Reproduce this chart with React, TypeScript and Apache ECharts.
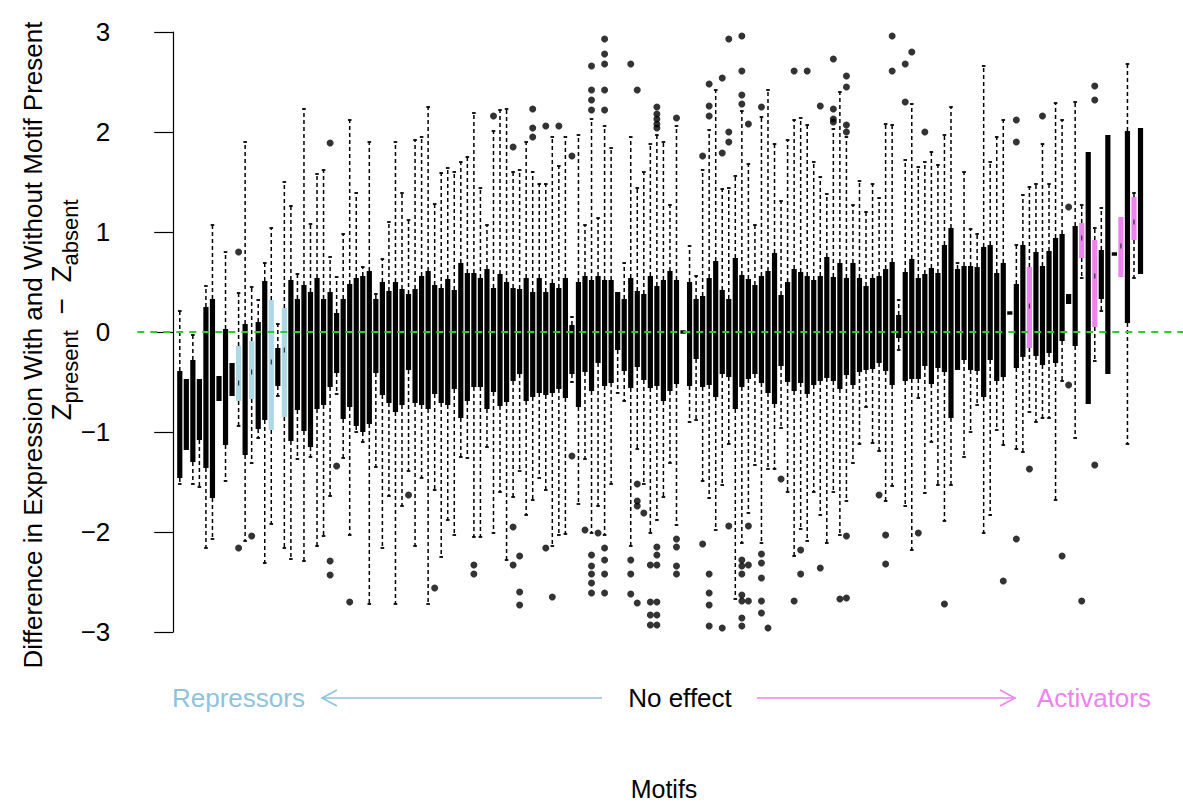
import React, { useEffect, useRef } from "react";
import * as echarts from "echarts";

// ---- data (motif index = position + 1) ----
const lowerWhisker = [
  -1.52, -1.18, -1.52, -1.55, -2.16, -2.07, -0.69, -1.49, -0.64, -0.94,
  -2.09, -1.31, -1.06, -2.31, -1.92, -0.64, -2.16, -2.27, -1.27, -2.29,
  -1.25, -2.14, -2.04, -1.64, -0.62, -1.26, -2.03, -1.0, -1.1, -2.72,
  -1.35, -2.16, -1.64, -2.72, -1.74, -1.39, -2.14, -1.46, -2.72, -1.58,
  -2.25, -1.88, -2.03, -1.25, -1.26, -2.05, -2.05, -1.15, -2.01, -1.6,
  -2.28, -1.65, -1.39, -1.83, -1.68, -1.46, -1.58, -2.14, -2.03, -2.02,
  -0.5, -1.72, -1.27, -2.01, -1.74, -2.03, -1.52, -0.61, -0.69, -2.14,
  -1.17, -1.52, -2.01, -1.88, -1.65, -1.31, -1.93, 0.0, -0.9, -0.88,
  -1.49, -1.66, -1.98, -1.53, -1.12, -2.67, -2.11, -1.81, -1.33, -2.11,
  -1.37, -1.37, -0.96, -1.6, -2.24, -1.97, -2.09, -1.6, -1.83, -2.11,
  -1.6, -2.03, -1.69, -1.31, -1.12, -0.75, -1.11, -1.19, -1.69, -1.54,
  -0.18, -1.74, -2.18, -0.66, -1.61, -1.1, -1.53, -1.89, -1.53, -0.38,
  -1.25, -1.0, -0.73, -2.01, -1.83, -0.98, -1.13, 0.19, -1.17, -1.2,
  -0.8, -0.9, -0.86, -0.86, -1.68, -0.49, 0.28, -1.06, 0.54, -0.72,
  -0.29, 0.21, -0.42, 0.78, 0.55, -1.12, 0.54, 0.58,
];
const lowerQuartile = [
  -1.46, -1.18, -1.3, -1.08, -1.36, -1.66, -0.69, -1.13, -0.64, -0.69,
  -1.23, -0.67, -0.97, -0.88, -0.98, -0.54, -0.85, -1.09, -0.78, -0.99,
  -1.15, -0.77, -0.73, -0.55, -0.41, -0.87, -0.75, -0.94, -1.0, -0.92,
  -0.41, -0.63, -0.71, -0.8, -0.73, -0.38, -0.71, -0.73, -0.77, -0.62,
  -0.71, -0.73, -0.57, -0.86, -0.69, -0.55, -0.55, -0.77, -0.6, -0.74,
  -0.7, -0.49, -0.42, -0.69, -0.65, -0.61, -0.63, -0.61, -0.57, -0.66,
  -0.42, -0.75, -0.4, -0.59, -0.31, -0.54, -0.51, -0.18, -0.39, -0.56,
  -0.35, -0.48, -0.56, -0.54, -0.69, -0.59, -0.52, 0.0, -0.54, -0.27,
  -0.55, -0.53, -0.65, -0.42, -0.45, -0.77, -0.55, -0.47, -0.42, -0.51,
  -0.61, -0.72, -0.34, -0.5, -0.59, -0.51, -0.62, -0.53, -0.49, -0.46,
  -0.49, -0.57, -0.43, -0.53, -0.4, -0.38, -0.37, -0.31, -0.39, -0.53,
  -0.06, -0.49, -0.47, -0.47, -0.34, -0.52, -0.36, -0.4, -0.86, -0.38,
  -0.28, -0.38, -0.39, -0.65, -0.28, -0.49, -0.45, 0.19, -0.36, -0.25,
  -0.16, -0.24, -0.33, -0.21, -0.31, -0.09, 0.28, -0.14, 0.74, -0.72,
  0.05, 0.33, -0.42, 0.78, 0.55, 0.09, 0.92, 0.58,
];
const medians = [
  -0.92, -0.82, -0.79, -0.77, -0.55, -0.66, -0.56, -0.55, -0.47, -0.51,
  -0.57, -0.4, -0.43, -0.18, -0.3, -0.35, -0.18, -0.28, -0.22, -0.26,
  -0.37, -0.11, -0.2, -0.07, -0.11, -0.27, -0.13, -0.2, -0.22, -0.15,
  -0.04, -0.06, -0.15, -0.15, -0.15, 0.0, -0.14, -0.08, -0.08, -0.07,
  -0.13, -0.1, -0.07, -0.08, -0.05, 0.02, 0.0, -0.07, -0.08, -0.08,
  -0.1, -0.02, 0.0, -0.07, -0.12, -0.03, -0.11, -0.06, -0.06, -0.06,
  -0.17, -0.12, 0.08, -0.03, 0.12, -0.01, 0.0, 0.11, -0.03, -0.01,
  0.03, -0.05, 0.0, -0.04, -0.08, 0.01, 0.0, 0.0, -0.02, 0.03,
  -0.09, 0.0, 0.03, 0.0, -0.06, -0.01, 0.01, 0.03, 0.02, 0.02,
  0.0, 0.03, 0.01, 0.0, 0.02, 0.04, -0.03, -0.01, 0.03, 0.14,
  0.03, 0.06, 0.05, 0.08, 0.07, 0.04, 0.08, 0.12, 0.12, 0.08,
  0.05, 0.05, 0.13, 0.03, 0.12, 0.06, 0.11, 0.23, 0.09, 0.12,
  0.19, 0.14, 0.13, 0.1, 0.29, 0.05, 0.12, 0.19, 0.06, 0.31,
  0.26, 0.28, 0.16, 0.3, 0.31, 0.44, 0.33, 0.46, 0.94, 0.54,
  0.56, 0.57, 0.77, 0.78, 0.86, 1.05, 1.1, 1.31,
];
const upperQuartile = [
  -0.39, -0.47, -0.28, -0.47, 0.25, 0.33, -0.44, 0.03, -0.31, -0.14,
  0.08, -0.09, 0.1, 0.51, 0.32, -0.16, 0.24, 0.52, 0.33, 0.47,
  0.4, 0.54, 0.33, 0.4, 0.19, 0.33, 0.48, 0.54, 0.56, 0.61,
  0.33, 0.5, 0.41, 0.5, 0.43, 0.38, 0.43, 0.56, 0.61, 0.47,
  0.44, 0.53, 0.42, 0.69, 0.59, 0.59, 0.54, 0.63, 0.44, 0.58,
  0.5, 0.44, 0.43, 0.54, 0.4, 0.54, 0.4, 0.49, 0.44, 0.54,
  0.07, 0.5, 0.56, 0.52, 0.56, 0.52, 0.52, 0.4, 0.33, 0.54,
  0.41, 0.38, 0.56, 0.46, 0.52, 0.61, 0.52, 0.0, 0.5, 0.33,
  0.36, 0.54, 0.71, 0.42, 0.33, 0.74, 0.57, 0.53, 0.47, 0.56,
  0.61, 0.79, 0.37, 0.5, 0.63, 0.6, 0.56, 0.52, 0.56, 0.75,
  0.55, 0.69, 0.54, 0.69, 0.54, 0.46, 0.54, 0.56, 0.63, 0.7,
  0.17, 0.6, 0.73, 0.54, 0.58, 0.64, 0.59, 0.87, 1.04, 0.63,
  0.66, 0.66, 0.65, 0.85, 0.87, 0.59, 0.69, 0.19, 0.48, 0.87,
  0.65, 0.8, 0.66, 0.81, 0.94, 0.98, 0.38, 1.06, 1.09, 1.8,
  0.92, 0.82, 1.97, 0.78, 1.15, 2.01, 1.35, 2.04,
];
const upperWhisker = [
  0.21, -0.47, -0.03, -0.47, 0.46, 1.07, -0.44, 0.8, -0.31, 0.39,
  1.9, 0.45, 0.32, 0.69, 1.04, 0.08, 1.5, 1.26, 0.58, 2.23,
  1.08, 1.58, 1.62, 0.75, 0.55, 0.98, 2.12, 1.39, 0.65, 1.9,
  0.38, 0.73, 1.1, 1.9, 1.39, 1.12, 1.92, 1.95, 2.25, 1.28,
  1.59, 1.64, 1.6, 1.7, 1.75, 2.19, 1.44, 1.07, 2.01, 2.22,
  2.23, 1.6, 1.62, 1.9, 1.6, 1.48, 1.48, 1.95, 1.66, 1.95,
  0.15, 1.97, 1.07, 2.13, 1.14, 2.06, 1.84, 0.4, 0.69, 1.95,
  1.44, 1.6, 1.88, 1.97, 1.9, 1.27, 2.06, 0.0, 0.86, 0.56,
  1.62, 2.02, 2.42, 1.43, 1.44, 1.56, 2.21, 1.68, 1.07, 2.15,
  2.42, 1.88, 1.31, 1.92, 2.12, 2.14, 2.07, 1.7, 1.55, 1.38,
  2.03, 2.4, 1.95, 1.27, 1.51, 1.2, 1.48, 1.34, 2.08, 2.07,
  0.32, 1.72, 2.28, 1.65, 1.7, 1.8, 1.67, 1.97, 2.25, 0.69,
  1.6, 1.03, 0.98, 2.66, 1.7, 1.95, 2.12, 0.19, 0.87, 1.37,
  1.45, 1.48, 1.88, 1.48, 2.29, 2.12, 0.38, 2.3, 1.27, 1.8,
  1.04, 1.24, 1.97, 0.78, 1.15, 2.68, 1.39, 2.04,
];

const repressorMotifs = [10, 12, 15, 17];
const activatorMotifs = [131, 139, 141, 145, 147];

// [motif, outlying values]
const outliers: [number, number[]][] = [
  [10, [0.8, -2.16]],
  [12, [-2.04]],
  [24, [1.89, -2.29, -2.43]],
  [25, [-1.34]],
  [27, [-2.7]],
  [36, [-1.63]],
  [40, [-2.56]],
  [41, [-3.23]],
  [46, [-2.33, -2.42]],
  [49, [2.16, -3.02]],
  [52, [1.85, -1.95, -2.33]],
  [53, [-2.24, -2.6, -2.73]],
  [55, [2.23, 2.04, 1.95]],
  [57, [2.06, -2.16]],
  [58, [-2.65]],
  [59, [2.06]],
  [61, [1.76, -1.24]],
  [63, [-1.98]],
  [64, [2.22, 2.32, 2.42, 2.66, -2.23, -2.34, -2.42, -2.51, -2.61]],
  [65, [-2.01]],
  [66, [2.22, 2.42, 2.68, 2.78, 2.93, -2.16, -2.28, -2.42, -2.61]],
  [70, [2.68, -2.28, -2.42, -2.62]],
  [71, [2.42, -1.52, -1.69, -1.74, -2.71]],
  [72, [-1.81]],
  [73, [-2.33, -2.7, -2.83, -2.93]],
  [74, [2.04, 2.08, 2.13, 2.18, 2.25, -2.15, -2.23, -2.33, -2.7, -2.83, -2.93]],
  [77, [2.14, -2.07, -2.15, -2.34, -2.42]],
  [81, [1.76, -2.12]],
  [82, [2.16, 2.26, 2.48, -2.42, -2.61, -2.73, -2.94]],
  [84, [1.79, 2.54, -2.96]],
  [85, [1.9, 2.0, 2.93, -1.94]],
  [87, [2.28, 2.37, 2.61, 2.96, -2.28, -2.34, -2.42, -2.63, -2.69, -2.86, -2.94]],
  [88, [2.08, -1.94, -2.33, -2.69]],
  [90, [2.25, -2.22, -2.31, -2.46, -2.69, -2.81]],
  [91, [-2.96]],
  [93, [-1.47]],
  [95, [2.61, -2.69]],
  [96, [-2.18, -2.42]],
  [97, [2.61]],
  [99, [2.26, -2.36]],
  [101, [2.1, 2.13, 2.23, 2.73]],
  [102, [-2.67]],
  [103, [2.0, 2.07, 2.45, 2.56, -2.04, -2.66]],
  [108, [-1.63]],
  [109, [-2.03, -2.32]],
  [110, [2.61, 2.96]],
  [112, [2.3, 2.68]],
  [113, [2.8]],
  [114, [-2.01]],
  [115, [2.0]],
  [118, [-2.72]],
  [127, [-2.49]],
  [129, [1.9, 2.12, -2.07]],
  [131, [-1.37]],
  [133, [2.16]],
  [136, [-2.24]],
  [137, [1.25, -0.53]],
  [139, [-2.69]],
  [141, [2.32, 2.46, -1.33]],
];

const yTicks = [-3, -2, -1, 0, 1, 2, 3];

const yTitle = "Difference in Expression With and Without Motif Present";
const xTitle = "Motifs";
const leftLabel = "Repressors";
const midLabel = "No effect";
const rightLabel = "Activators";

// ---- styles ----
const FONT = "'Liberation Sans', Arial, Helvetica, sans-serif";
const REPRESSOR_FILL = "#add8e6";
const ACTIVATOR_FILL = "#ee82ee";
const REPRESSOR_TEXT = "#8fc2dc";
const ZERO_LINE = "#2ecc2e";

function measure(text: string, size: number): number {
  const ctx = document.createElement("canvas").getContext("2d");
  if (!ctx) return text.length * size * 0.5;
  ctx.font = `${size}px ${FONT}`;
  return ctx.measureText(text).width;
}

function txt(text: string, x: number, y: number, size: number, fill: string, align: string, extra: any = {}) {
  return {
    type: "text",
    x,
    y,
    ...extra,
    style: {
      text,
      font: `${size}px ${FONT}`,
      fill,
      textAlign: align,
      align,
      textVerticalAlign: "middle",
      verticalAlign: "middle",
    },
  };
}

export default function App() {
  const ref = useRef<HTMLDivElement>(null);

  useEffect(() => {
    document.body.style.margin = "0";
    const el = ref.current;
    if (!el) return;
    const chart = echarts.init(el, undefined, { renderer: "svg" });

    const boxData = lowerWhisker.map((lo, k) => {
      const motif = k + 1;
      const grp = repressorMotifs.includes(motif) ? 1 : activatorMotifs.includes(motif) ? 2 : 0;
      return [motif, lo, lowerQuartile[k], medians[k], upperQuartile[k], upperWhisker[k], grp];
    });
    const outlierData: number[][] = [];
    outliers.forEach(([m, vals]) => vals.forEach((v) => outlierData.push([m, v])));

    // subscripted y-axis second line
    const zParts = [
      { t: "Z", s: 28, dy: 0 },
      { t: "present", s: 22, dy: 9 },
      { t: "  \u2212  ", s: 28, dy: 0 },
      { t: "Z", s: 28, dy: 0 },
      { t: "absent", s: 22, dy: 9 },
    ];
    const widths = zParts.map((p) => measure(p.t, p.s));
    const total = widths.reduce((a, b) => a + b, 0);
    let cursor = -total / 2;
    const zChildren = zParts.map((p, i) => {
      const c = txt(p.t, cursor, p.dy, p.s, "#000", "left");
      cursor += widths[i];
      return c;
    });

    const arrowY = 698;
    const blueStroke = { stroke: REPRESSOR_TEXT, lineWidth: 1.6 };
    const pinkStroke = { stroke: ACTIVATOR_FILL, lineWidth: 1.6 };

    const option: any = {
      animation: false,
      backgroundColor: "#ffffff",
      grid: { left: 137.3, top: 32, width: 1051.4, height: 600, containLabel: false },
      xAxis: { type: "value", min: -5.5, max: 154.5, show: false },
      yAxis: {
        type: "value",
        min: yTicks[0],
        max: yTicks[yTicks.length - 1],
        interval: 1,
        axisLine: { show: true, lineStyle: { color: "#000", width: 1.2 } },
        axisTick: { show: true, length: 19, lineStyle: { color: "#000", width: 1.2 } },
        axisLabel: {
          margin: 27,
          fontSize: 26,
          fontFamily: FONT,
          color: "#000",
          formatter: (v: number) => String(v).replace("-", "\u2212"),
        },
        splitLine: { show: false },
      },
      series: [
        {
          type: "custom",
          z: 2,
          data: boxData,
          encode: { x: 0, y: [1, 2, 3, 4, 5] },
          renderItem: (params: any, api: any) => {
            const m = api.value(0);
            const pLo = api.coord([m, api.value(1)]);
            const pQ1 = api.coord([m, api.value(2)]);
            const pMed = api.coord([m, api.value(3)]);
            const pQ3 = api.coord([m, api.value(4)]);
            const pHi = api.coord([m, api.value(5)]);
            const grp = api.value(6);
            const cx = pLo[0];
            const children: any[] = [];
            const dash = { stroke: "#000", lineWidth: 1.5, lineDash: [4, 3] };
            const staple = { stroke: "#000", lineWidth: 1.8 };
            if (pLo[1] - pQ1[1] > 1) {
              children.push({ type: "line", shape: { x1: cx, y1: pQ1[1], x2: cx, y2: pLo[1] }, style: dash });
              children.push({ type: "line", shape: { x1: cx - 1.8, y1: pLo[1], x2: cx + 1.8, y2: pLo[1] }, style: staple });
            }
            if (pQ3[1] - pHi[1] > 1) {
              children.push({ type: "line", shape: { x1: cx, y1: pQ3[1], x2: cx, y2: pHi[1] }, style: dash });
              children.push({ type: "line", shape: { x1: cx - 1.8, y1: pHi[1], x2: cx + 1.8, y2: pHi[1] }, style: staple });
            }
            let top = pQ3[1];
            let h = pQ1[1] - pQ3[1];
            if (h < 3.5) {
              top = (pQ1[1] + pQ3[1]) / 2 - 1.75;
              h = 3.5;
            }
            const fill = grp === 1 ? REPRESSOR_FILL : grp === 2 ? ACTIVATOR_FILL : "#000";
            children.push({ type: "rect", shape: { x: cx - 2.6, y: top, width: 5.2, height: h }, style: { fill } });
            if (grp !== 0) {
              children.push({
                type: "rect",
                shape: { x: cx - 0.6, y: pMed[1] - 2.5, width: 1.2, height: 5 },
                style: { fill: "#333" },
              });
            }
            return { type: "group", children };
          },
        },
        {
          type: "scatter",
          z: 3,
          data: outlierData,
          symbol: "circle",
          symbolSize: 7,
          itemStyle: { color: "#000" },
          markLine: {
            silent: true,
            symbol: ["none", "none"],
            label: { show: false },
            lineStyle: { color: ZERO_LINE, type: [7, 6], width: 1.8 },
            data: [{ yAxis: 0 }],
          },
        },
      ],
      graphic: [
        txt(yTitle, 33, 345, 26, "#000", "center", { rotation: Math.PI / 2 }),
        { type: "group", x: 61, y: 310, rotation: Math.PI / 2, children: zChildren },
        txt(leftLabel, 172, arrowY, 26, REPRESSOR_TEXT, "left"),
        { type: "line", shape: { x1: 322, y1: arrowY, x2: 602, y2: arrowY }, style: blueStroke },
        { type: "polyline", shape: { points: [[337, arrowY - 8], [322, arrowY], [337, arrowY + 8]] }, style: { ...blueStroke, fill: "none" } },
        txt(midLabel, 680, arrowY, 26, "#000", "center"),
        { type: "line", shape: { x1: 757, y1: arrowY, x2: 1015, y2: arrowY }, style: pinkStroke },
        { type: "polyline", shape: { points: [[1000, arrowY - 8], [1015, arrowY], [1000, arrowY + 8]] }, style: { ...pinkStroke, fill: "none" } },
        txt(rightLabel, 1151, arrowY, 26, ACTIVATOR_FILL, "right"),
        txt(xTitle, 664, 789, 25, "#000", "center"),
      ],
    };

    chart.setOption(option);
    return () => chart.dispose();
  }, []);

  return <div ref={ref} style={{ width: 1183, height: 805 }} />;
}
